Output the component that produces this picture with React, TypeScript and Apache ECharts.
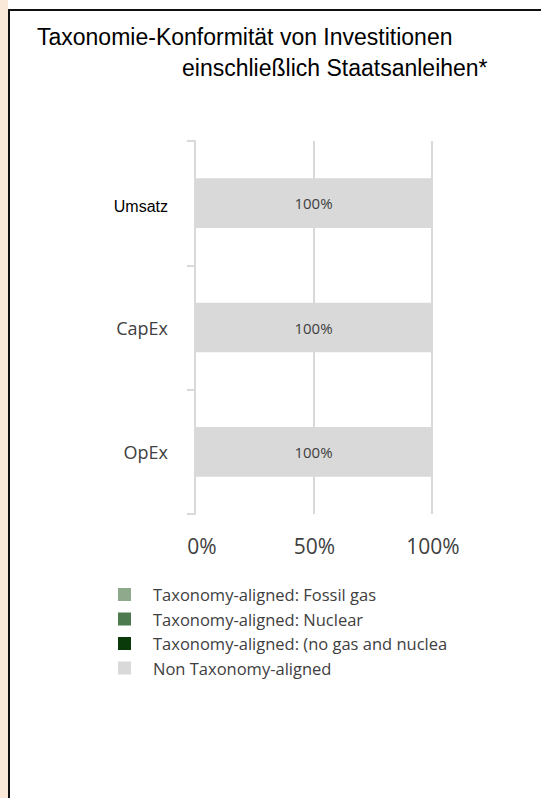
import React, { useEffect, useRef } from "react";
import * as echarts from "echarts";

const categories = ["Umsatz", "CapEx", "OpEx"];
const fossilGas = [0, 0, 0];
const nuclear = [0, 0, 0];
const noGasNuclear = [0, 0, 0];
const nonAligned = [100, 100, 100];
const seriesNames = [
  "Taxonomy-aligned: Fossil gas",
  "Taxonomy-aligned: Nuclear",
  "Taxonomy-aligned: (no gas and nuclear)",
  "Non Taxonomy-aligned",
];
const seriesColors = ["#8FA98C", "#4E7A4F", "#0A3A0A", "#D9D9D9"];
const xMin = 0;
const xMax = 100;
const xInterval = 50;
const titleLine1 = "Taxonomie-Konformität von Investitionen";
const titleLine2 = "einschließlich Staatsanleihen*";

const CAL = "'Open Sans', 'Noto Sans', sans-serif";
const ARIAL = "'Liberation Sans', Arial, sans-serif";

export default function App() {
  const ref = useRef<HTMLDivElement>(null);
  useEffect(() => {
    if (!ref.current) return;
    const chart = echarts.init(ref.current, undefined, { renderer: "svg" });
    const values = [fossilGas, nuclear, noGasNuclear, nonAligned];
    const option: any = {
      animation: false,
      backgroundColor: "#ffffff",
      title: [
        {
          text: titleLine1,
          left: 37,
          top: 25,
          padding: 0,
          textStyle: { fontFamily: ARIAL, fontSize: 23, fontWeight: "normal", color: "#000" },
        },
        {
          text: titleLine2,
          left: 182,
          top: 56,
          padding: 0,
          textStyle: { fontFamily: ARIAL, fontSize: 23, fontWeight: "normal", color: "#000" },
        },
      ],
      graphic: [
        { type: "rect", shape: { x: 0, y: 0, width: 8, height: 798 }, style: { fill: "#FAE9D9" }, silent: true },
        { type: "line", shape: { x1: 9, y1: 9, x2: 9, y2: 798 }, style: { stroke: "#111", lineWidth: 2 }, silent: true },
        { type: "line", shape: { x1: 8, y1: 10, x2: 541, y2: 10 }, style: { stroke: "#111", lineWidth: 2 }, silent: true },
        {
          type: "rect",
          z: 100,
          shape: { x: 448, y: 630, width: 93, height: 26 },
          style: { fill: "#ffffff" },
          silent: true,
        },
      ],
      legend: {
        orient: "vertical",
        left: 118,
        top: 586,
        padding: 0,
        icon: "rect",
        itemWidth: 13,
        itemHeight: 13,
        itemGap: 7.5,
        data: seriesNames,
        selectedMode: false,
        textStyle: {
          fontFamily: CAL,
          fontSize: 16.5,
          color: "#404040",
          padding: [0, 0, 0, 17],
        },
      },
      grid: { left: 195, right: 109, top: 141, bottom: 284, containLabel: false },
      xAxis: {
        type: "value",
        min: xMin,
        max: xMax,
        interval: xInterval,
        axisLine: { show: false },
        axisTick: { show: false },
        splitLine: { show: true, lineStyle: { color: "#D9D9D9", width: 2 } },
        axisLabel: {
          formatter: (v: number) => (v === 0 ? "{z|" + v + "%}" : "{n|" + v + "%}"),
          rich: {
            z: { fontFamily: CAL, fontSize: 21, color: "#404040", padding: [0, 0, 0, 14] },
            n: { fontFamily: CAL, fontSize: 21, color: "#404040", padding: [0, 0, 0, 2] },
          },
          margin: 21,
        },
      },
      yAxis: {
        type: "category",
        data: categories,
        inverse: true,
        axisLine: { show: true, lineStyle: { color: "#D9D9D9", width: 2 } },
        axisTick: { show: true, length: 8, lineStyle: { color: "#D9D9D9", width: 2 } },
        splitLine: { show: false },
        axisLabel: {
          margin: 27,
          formatter: (v: string) => (v === "Umsatz" ? "{a|" + v + "}" : "{b|" + v + "}"),
          rich: {
            a: { fontFamily: ARIAL, fontSize: 16, color: "#000", padding: [6, 0, 0, 0] },
            b: { fontFamily: CAL, fontSize: 18, color: "#404040" },
          },
        },
      },
      series: seriesNames.map((name, i) => ({
        name,
        type: "bar",
        stack: "total",
        barWidth: "40%",
        data: values[i],
        itemStyle: { color: seriesColors[i] },
        label:
          i === 3
            ? {
                show: true,
                position: "inside",
                formatter: "{c}%",
                fontFamily: CAL,
                fontSize: 15,
                color: "#404040",
              }
            : { show: false },
      })),
    };
    chart.setOption(option);
    return () => chart.dispose();
  }, []);
  return (
    <div
      ref={ref}
      style={{ position: "absolute", left: 0, top: 0, width: 541, height: 798 }}
    />
  );
}
